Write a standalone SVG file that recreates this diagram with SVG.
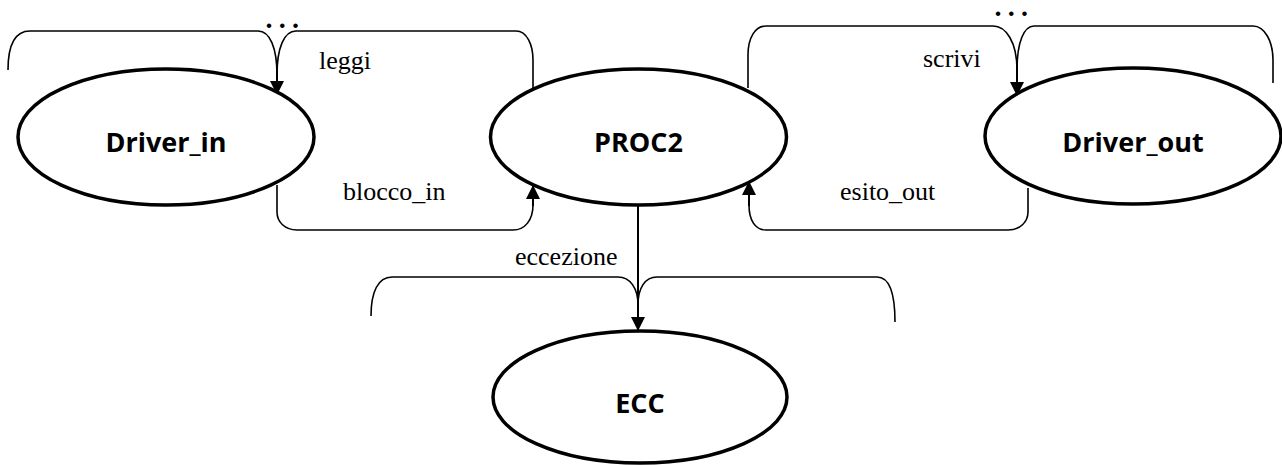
<svg xmlns="http://www.w3.org/2000/svg" width="1282" height="465" viewBox="0 0 1282 465">
  <style>
    .node ellipse { fill: #ffffff; stroke: #000000; stroke-width: 3.5; }
    .node text { font-family: "Open Sans", "Liberation Sans", sans-serif; font-weight: bold; font-size: 27px; text-anchor: middle; fill: #000000; }
    .wire { fill: none; stroke: #000000; stroke-width: 1.6; }
    .arrow { fill: none; stroke: #000000; stroke-width: 2; }
    .label { font-family: "Liberation Serif", "Times New Roman", serif; font-size: 26px; fill: #000000; }
    .dots { font-family: "Liberation Serif", "Times New Roman", serif; font-weight: bold; font-size: 28px; letter-spacing: 6.3px; fill: #000000; }
  </style>
  <defs>
    <marker id="head" markerUnits="userSpaceOnUse" markerWidth="14" markerHeight="14" refX="13" refY="7" orient="auto">
      <path d="M0,0 L14,7 L0,14 z" fill="#000000"/>
    </marker>
  </defs>
  <rect width="1282" height="465" fill="#ffffff"/>

  <g id="connectors">
    <!-- brace over Driver_in (leggi) -->
    <path class="wire" d="M8,70 C8,45 15,31 30,31 L258,31 C270,31 277,48 277,75"/>
    <path class="wire" d="M277,75 C277,48 284,31 296,31 L516,31 C527,31 533,45 533,60 L533,88"/>
    <path class="arrow" d="M277,62 L277,94" marker-end="url(#head)"/>
    <text class="dots" x="265.5" y="28">...</text>

    <!-- blocco_in: Driver_in to PROC2 -->
    <path class="wire" d="M277,185 L277,212 C277,222 285,230 297,230 L513,230 C525,230 533,220 533,205"/>
    <path class="arrow" d="M533,206 L533,186" marker-end="url(#head)"/>

    <!-- brace over Driver_out (scrivi) -->
    <path class="wire" d="M748,88 L748,55 C748,38 755,26 766,26 L993,26 C1006,26 1017,42 1017,70"/>
    <path class="wire" d="M1017,70 C1017,42 1024,26 1034,26 L1253,26 C1265,26 1273,42 1273,60 L1273,83"/>
    <path class="arrow" d="M1017,58 L1017,95" marker-end="url(#head)"/>
    <text class="dots" x="994.5" y="15.5">...</text>

    <!-- esito_out: Driver_out to PROC2 -->
    <path class="wire" d="M1028,188 L1028,212 C1028,222 1020,230 1008,230 L766,230 C755,230 749,220 749,205"/>
    <path class="arrow" d="M749,206 L749,182" marker-end="url(#head)"/>

    <!-- eccezione: PROC2 to ECC -->
    <path class="wire" d="M371,316 C371,292 378,277 392,277 L618,277 C630,277 638,288 638,305"/>
    <path class="wire" d="M638,305 C638,288 645,277 657,277 L877,277 C889,277 895,292 895,322"/>
    <path class="arrow" d="M638,206 L638,330" marker-end="url(#head)"/>

    <text class="label" x="319" y="69">leggi</text>
    <text class="label" x="343" y="200">blocco_in</text>
    <text class="label" x="923" y="67">scrivi</text>
    <text class="label" x="840" y="200">esito_out</text>
    <text class="label" x="515" y="265">eccezione</text>
  </g>

  <g id="Driver_in" class="node">
    <ellipse cx="166" cy="137" rx="148" ry="68"/>
    <text x="166" y="152">Driver_in</text>
  </g>
  <g id="PROC2" class="node">
    <ellipse cx="638.5" cy="137" rx="148" ry="68"/>
    <text x="638.5" y="152">PROC2</text>
  </g>
  <g id="Driver_out" class="node">
    <ellipse cx="1133" cy="136" rx="148" ry="68"/>
    <text x="1133" y="152">Driver_out</text>
  </g>
  <g id="ECC" class="node">
    <ellipse cx="640" cy="397" rx="147" ry="66"/>
    <text x="640" y="413">ECC</text>
  </g>
</svg>
